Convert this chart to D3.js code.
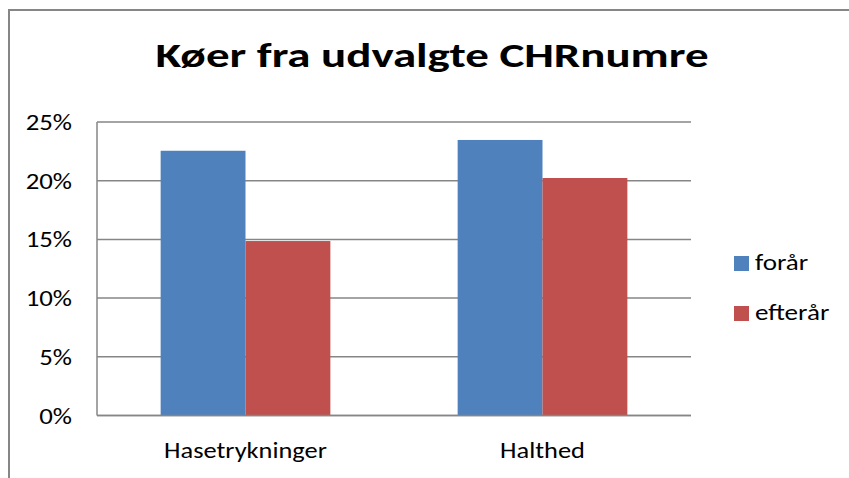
<!DOCTYPE html>
<html>
<head>
<meta charset="utf-8">
<script src="https://cdn.jsdelivr.net/npm/d3@7"></script>
<style>
  body { margin: 0; background: #fff; }
  text { font-family: Carlito, Calibri, Lato, sans-serif; fill: #000; }
</style>
</head>
<body>
<svg id="chart" width="849" height="478"></svg>
<script>
// Data
var categories = ['Hasetrykninger', 'Halthed'];
var seriesNames = ['forår', 'efterår'];
var seriesColors = ['#4F81BD', '#C0504D'];
var foraarValues = [0.2255, 0.2347];
var efteraarValues = [0.1486, 0.2023];
var yTicks = [0, 0.05, 0.10, 0.15, 0.20, 0.25];

var svg = d3.select('#chart');

// the original picture is stretched sideways, so text gets a horizontal scale
function place(x, y, sx) {
  return 'translate(' + x + ',' + y + ') scale(' + sx + ',1)';
}

// outer chart border (runs off the right and bottom edge)
svg.append('rect')
  .attr('x', 9).attr('y', 10)
  .attr('width', 870).attr('height', 500)
  .attr('fill', 'none')
  .attr('stroke', '#868686')
  .attr('stroke-width', 2);

svg.append('text')
  .attr('transform', place(432, 67, 1.38))
  .attr('text-anchor', 'middle')
  .style('font-size', '34px')
  .style('font-weight', 'bold')
  .text('Køer fra udvalgte CHRnumre');

var plot = { left: 97, right: 691, top: 122, bottom: 415.5 };

var x = d3.scaleBand()
  .domain(categories)
  .range([plot.left, plot.right]);

// Excel gap width 150%: bars fill 2/3.5 of slot
var xInner = d3.scaleBand()
  .domain(seriesNames)
  .range([0, x.bandwidth()])
  .paddingOuter(0.75)
  .paddingInner(0);

var y = d3.scaleLinear()
  .domain([0, 0.25])
  .range([plot.bottom, plot.top]);

// gridlines
svg.append('g')
  .selectAll('line')
  .data(yTicks)
  .enter()
  .append('line')
  .attr('x1', plot.left).attr('x2', plot.right)
  .attr('y1', d => y(d)).attr('y2', d => y(d))
  .attr('stroke', '#868686')
  .attr('stroke-width', 1.5);

// y axis line
svg.append('line')
  .attr('x1', plot.left).attr('x2', plot.left)
  .attr('y1', plot.top).attr('y2', plot.bottom)
  .attr('stroke', '#868686')
  .attr('stroke-width', 1.5);

// y tick labels
svg.append('g')
  .selectAll('text')
  .data(yTicks)
  .enter()
  .append('text')
  .attr('transform', d => place(72, y(d) + 8, 1.22))
  .attr('text-anchor', 'end')
  .style('font-size', '22px')
  .text(d3.format('.0%'));

// bars
var seriesData = [foraarValues, efteraarValues];
var groups = svg.append('g')
  .selectAll('g')
  .data(seriesNames)
  .enter()
  .append('g')
  .attr('fill', (d, i) => seriesColors[i]);

groups.selectAll('rect')
  .data((s, i) => seriesData[i].map((v, j) => ({ series: s, cat: categories[j], value: v })))
  .enter()
  .append('rect')
  .attr('x', d => x(d.cat) + xInner(d.series))
  .attr('width', xInner.bandwidth())
  .attr('y', d => y(d.value))
  .attr('height', d => y(0) - y(d.value));

// x axis line on top of bars
svg.append('line')
  .attr('x1', plot.left).attr('x2', plot.right)
  .attr('y1', plot.bottom).attr('y2', plot.bottom)
  .attr('stroke', '#868686')
  .attr('stroke-width', 1.5);

// category labels
svg.append('g')
  .selectAll('text')
  .data(categories)
  .enter()
  .append('text')
  .attr('transform', d => place(x(d) + x.bandwidth() / 2, 458, 1.2))
  .attr('text-anchor', 'middle')
  .style('font-size', '22px')
  .text(d => d);

// legend
var legend = svg.append('g')
  .selectAll('g')
  .data(seriesNames)
  .enter()
  .append('g')
  .attr('transform', (d, i) => 'translate(734,' + (256 + i * 50) + ')');

legend.append('rect')
  .attr('width', 15).attr('height', 15)
  .attr('fill', (d, i) => seriesColors[i]);

legend.append('text')
  .attr('transform', place(21, 14, 1.23))
  .style('font-size', '22px')
  .text(d => d);
</script>
</body>
</html>
